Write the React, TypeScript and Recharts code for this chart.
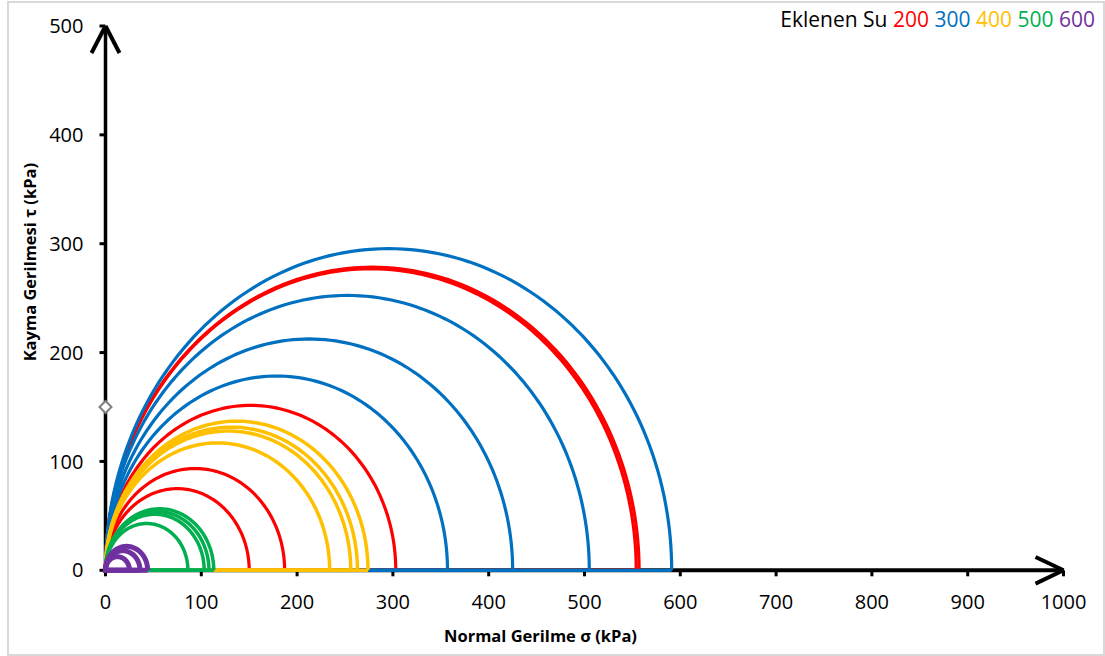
import { ScatterChart, Scatter, XAxis, YAxis, ReferenceLine, Label } from "recharts";

// axis ticks (kPa)
const xTicks = [0, 100, 200, 300, 400, 500, 600, 700, 800, 900, 1000];
const yTicks = [0, 100, 200, 300, 400, 500];

// sigma1 of each unconfined test (sigma3 = 0)
const su200 = [150, 187, 303, 554, 557];
const su300 = [357, 425, 505, 591];
const su400 = [234, 256, 263, 274];
const su500 = [86, 103, 108, 113];
const su600 = [25, 36, 44];

// lone grey diamond on the tau axis
const markerPts = [{ x: 0, y: 150 }];

// sigma axis drawn as a series so the circle diameters sit on top of it
const sigmaAxis = [{ x: 0, y: 0 }, { x: 1000, y: 0 }];

const legendLabels = ["200", "300", "400", "500", "600"];
const colors = ["#FF0000", "#0070C0", "#FFC000", "#00B050", "#7030A0"];
const widths = [3.2, 3.2, 3.5, 3.5, 5];

const font = "'Open Sans', sans-serif";

// upper half of a Mohr circle plus its diameter along the sigma axis
const mohrCircle = (s1: number, s3 = 0) => {
  const c = (s1 + s3) / 2;
  const r = (s1 - s3) / 2;
  const pts: { x: number; y: number }[] = [];
  for (let i = 0; i <= 120; i++) {
    const a = (Math.PI * i) / 120;
    pts.push({ x: Math.max(0, c + r * Math.cos(a)), y: Math.max(0, r * Math.sin(a)) });
  }
  pts.push({ x: s1, y: 0 });
  return pts;
};

const groups = [su200, su300, su400, su500, su600];

const noDot = () => <g />;

const Diamond = (props: any) => {
  const { cx, cy } = props;
  const s = 6;
  return (
    <polygon
      points={`${cx},${cy - s} ${cx + s},${cy} ${cx},${cy + s} ${cx - s},${cy}`}
      fill="#fff"
      stroke="#7f7f7f"
      strokeWidth={2}
    />
  );
};

const XTitle = (props: any) => {
  const { x, width, y } = props.viewBox;
  return (
    <text x={x + width / 2 - 44} y={y + 72} textAnchor="middle" fontFamily={font} fontWeight="bold" fontSize={16.5} fill="#000">
      Normal Gerilme σ (kPa)
    </text>
  );
};

const YTitle = (props: any) => {
  const { x, y, height } = props.viewBox;
  const cx = x + 30;
  const cy = y + height / 2 - 36;
  return (
    <text x={cx} y={cy} transform={`rotate(-90, ${cx}, ${cy})`} textAnchor="middle" dominantBaseline="central" fontFamily={font} fontWeight="bold" fontSize={16.5} fill="#000">
      Kayma Gerilmesi τ (kPa)
    </text>
  );
};

export default function App() {
  return (
    <div style={{ position: "absolute", left: 0, top: 0, width: 1105, height: 656, background: "#fff" }}>
      <div
        style={{
          position: "absolute",
          left: 7,
          top: 1,
          width: 1094,
          height: 651,
          border: "2px solid #d9d9d9",
        }}
      />
      <div style={{ position: "absolute", left: 0, top: 0 }}>
        <ScatterChart width={1105} height={656} margin={{ top: 26, right: 41.5, bottom: 0, left: 0 }}>
          <XAxis
            type="number"
            dataKey="x"
            domain={[0, 1000]}
            ticks={xTicks}
            height={85.7}
            axisLine={false}
            tickLine={{ stroke: "#000", strokeWidth: 3 }}
            tickSize={6}
            tickMargin={18}
            tick={{ fill: "#000", fontSize: 20, fontFamily: font }}
          >
            <Label content={XTitle} />
          </XAxis>
          <YAxis
            type="number"
            dataKey="y"
            domain={[0, 500]}
            ticks={yTicks}
            width={105.5}
            axisLine={{ stroke: "#000", strokeWidth: 3.5 }}
            tickLine={{ stroke: "#000", strokeWidth: 3 }}
            tickSize={6}
            tickMargin={16}
            tick={{ fill: "#000", fontSize: 20, fontFamily: font }}
          >
            <Label content={YTitle} />
          </YAxis>
          <Scatter
            data={sigmaAxis}
            fill="#000"
            line={{ stroke: "#000", strokeWidth: 4 }}
            lineType="joint"
            shape={noDot}
            isAnimationActive={false}
          />
          {groups.map((g, gi) =>
            g.map((s1, i) => (
              <Scatter
                key={`c-${gi}-${i}`}
                data={mohrCircle(s1)}
                fill={colors[gi]}
                line={{ stroke: colors[gi], strokeWidth: widths[gi] }}
                lineType="joint"
                shape={noDot}
                isAnimationActive={false}
              />
            ))
          )}
          <Scatter data={markerPts} fill="#fff" shape={Diamond} isAnimationActive={false} />
          <ReferenceLine segment={[{ x: 0, y: 500 }, { x: -14.6, y: 475.2 }]} stroke="#000" strokeWidth={4} ifOverflow="visible" />
          <ReferenceLine segment={[{ x: 0, y: 500 }, { x: 14.6, y: 475.2 }]} stroke="#000" strokeWidth={4} ifOverflow="visible" />
          <ReferenceLine segment={[{ x: 1000, y: 0 }, { x: 970.8, y: 12.2 }]} stroke="#000" strokeWidth={4} ifOverflow="visible" />
          <ReferenceLine segment={[{ x: 1000, y: 0 }, { x: 970.8, y: -12.2 }]} stroke="#000" strokeWidth={4} ifOverflow="visible" />
        </ScatterChart>
      </div>
      <div
        style={{
          position: "absolute",
          right: 10,
          top: 5,
          fontFamily: font,
          fontSize: 21,
          whiteSpace: "nowrap",
          color: "#000",
        }}
      >
        Eklenen Su{" "}
        {legendLabels.map((t, i) => (
          <span key={t} style={{ color: colors[i] }}>
            {t}
            {i < legendLabels.length - 1 ? " " : ""}
          </span>
        ))}
      </div>
    </div>
  );
}
